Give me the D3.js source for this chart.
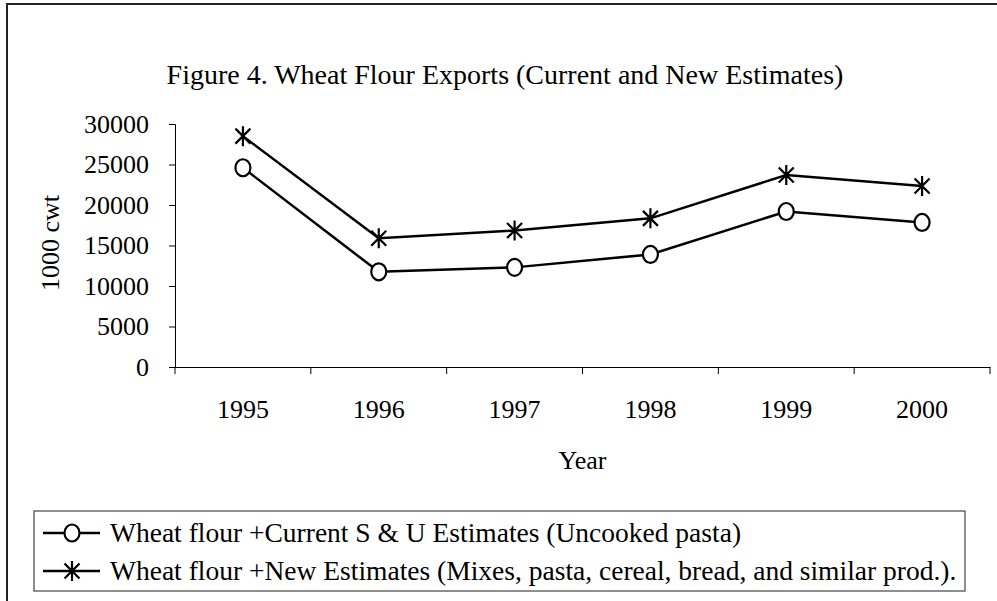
<!DOCTYPE html>
<html lang="en">
<head>
<meta charset="utf-8">
<style type="text/css">
    body { margin: 0; background: #fff; }
    svg text { font-family: "Liberation Serif", "Times New Roman", serif; fill: #000; }
    .title_text { font-size: 28px; }
    .tick_text { font-size: 26px; }
    .label_text { font-size: 26px; }
    .legend_text { font-size: 27.5px; }
</style>
</head>
<body>
<div id="graph"></div>
<script src="https://cdn.jsdelivr.net/npm/d3@7"></script>
<script type="text/javascript">
    var years = ["1995", "1996", "1997", "1998", "1999", "2000"];
    var currentEst = [24600, 11750, 12300, 13900, 19200, 17850];
    var newEst = [28500, 15900, 16850, 18350, 23700, 22350];
    var yTicks = [0, 5000, 10000, 15000, 20000, 25000, 30000];
    var seriesNames = ["Wheat flour +Current S & U Estimates (Uncooked pasta)",
                       "Wheat flour +New Estimates (Mixes, pasta, cereal, bread, and similar prod.)."];

    var width = 997, height = 601;
    var plot = {left: 175, right: 990, top: 124, bottom: 367};

    var svg = d3.select("#graph").append("svg")
        .attr("width", width)
        .attr("height", height);

    // outer frame (runs off the right and bottom of the picture)
    svg.append("rect")
        .attr("x", 7).attr("y", 4)
        .attr("width", 1000).attr("height", 640)
        .attr("fill", "none").attr("stroke", "#222").attr("stroke-width", 2);

    svg.append("text")
        .attr("class", "title_text")
        .attr("x", 505).attr("y", 84)
        .attr("text-anchor", "middle")
        .text("Figure 4. Wheat Flour Exports (Current and New Estimates)");

    var x = d3.scaleBand().domain(years).range([plot.left, plot.right]).padding(0);
    var y = d3.scaleLinear().domain([0, 30000]).range([plot.bottom, plot.top]);

    // y axis
    var yAxis = svg.append("g")
        .attr("transform", "translate(" + plot.left + ",0)")
        .call(d3.axisLeft(y).tickValues(yTicks).tickSize(6).tickPadding(20).tickFormat(d3.format("d")));
    yAxis.selectAll("text").attr("class", "tick_text").attr("font-size", null).attr("font-family", null);
    yAxis.select(".domain").attr("stroke", "#000");

    // x axis (ticks at category boundaries)
    var xAxis = svg.append("g")
        .attr("transform", "translate(0," + plot.bottom + ")")
        .call(d3.axisBottom(x).tickSize(0).tickPadding(33).tickSizeOuter(0));
    xAxis.selectAll("text").attr("class", "tick_text").attr("font-size", null).attr("font-family", null);
    xAxis.select(".domain").attr("stroke", "#000");
    xAxis.selectAll(".bound")
        .data(years.concat(["end"]))
        .enter().append("line")
        .attr("class", "bound")
        .attr("x1", function(d) { return d === "end" ? x.range()[1] : x(d); })
        .attr("x2", function(d) { return d === "end" ? x.range()[1] : x(d); })
        .attr("y1", 0).attr("y2", 7)
        .attr("stroke", "#000");

    svg.append("text")
        .attr("class", "label_text")
        .attr("x", (plot.left + plot.right) / 2).attr("y", 469)
        .attr("text-anchor", "middle")
        .text("Year");

    svg.append("text")
        .attr("class", "label_text")
        .attr("transform", "translate(59,243) rotate(-90)")
        .attr("text-anchor", "middle")
        .text("1000 cwt");

    var line = d3.line()
        .x(function(d, i) { return x(years[i]) + x.bandwidth() / 2; })
        .y(function(d) { return y(d); });

    function starPath(w, h) {
        return "M" + (-w) + "," + (-h * 0.75) + "L" + w + "," + (h * 0.75) +
               "M" + (-w) + "," + (h * 0.75) + "L" + w + "," + (-h * 0.75) +
               "M0," + (-h) + "L0," + h;
    }

    var series = [{values: currentEst, kind: "circle"}, {values: newEst, kind: "star"}];

    series.forEach(function(s) {
        svg.append("path")
            .datum(s.values)
            .attr("d", line)
            .attr("fill", "none")
            .attr("stroke", "#000")
            .attr("stroke-width", 2.5);
        var marks = svg.selectAll(null)
            .data(s.values)
            .enter().append("g")
            .attr("transform", function(d, i) {
                return "translate(" + (x(years[i]) + x.bandwidth() / 2) + "," + y(d) + ")";
            });
        if (s.kind === "circle") {
            marks.append("ellipse").attr("rx", 7.5).attr("ry", 8.5)
                .attr("fill", "#fff").attr("stroke", "#000").attr("stroke-width", 2.2);
        } else {
            marks.append("path").attr("d", starPath(7.5, 10))
                .attr("fill", "none").attr("stroke", "#000").attr("stroke-width", 2.2);
        }
    });

    // legend
    var legend = svg.append("g");
    legend.append("rect")
        .attr("x", 34).attr("y", 511)
        .attr("width", 931).attr("height", 80)
        .attr("fill", "#fff").attr("stroke", "#444").attr("stroke-width", 1.2);

    series.forEach(function(s, i) {
        var ly = 533 + i * 38;
        var row = legend.append("g");
        row.append("line")
            .attr("x1", 43).attr("x2", 100).attr("y1", ly).attr("y2", ly)
            .attr("stroke", "#000").attr("stroke-width", 2.5);
        var m = row.append("g").attr("transform", "translate(72," + ly + ")");
        if (s.kind === "circle") {
            m.append("ellipse").attr("rx", 7.5).attr("ry", 8.5)
                .attr("fill", "#fff").attr("stroke", "#000").attr("stroke-width", 2.2);
        } else {
            m.append("path").attr("d", starPath(7.5, 10))
                .attr("fill", "none").attr("stroke", "#000").attr("stroke-width", 2.2);
        }
        row.append("text")
            .attr("class", "legend_text")
            .attr("x", 110).attr("y", ly + 9)
            .text(seriesNames[i]);
    });
</script>
</body>
</html>
